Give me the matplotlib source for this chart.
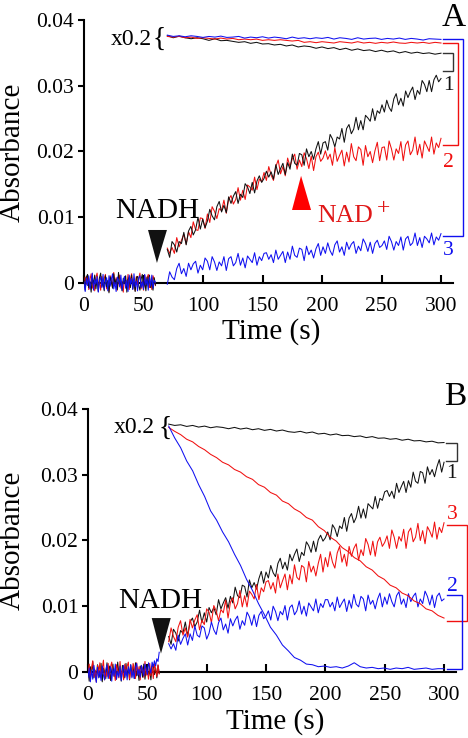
import numpy as np
import matplotlib
matplotlib.use("Agg")
import matplotlib.pyplot as plt
from matplotlib.patches import Polygon

plt.rcParams['font.family'] = ['Liberation Serif', 'DejaVu Serif']

# ---------------- data (absorbance in units of 0.001) ----------------
xticks = [0, 50, 100, 150, 200, 250, 300]
yticks = [0, 10, 20, 30, 40]
ytick_labels = ['0', '0.01', '0.02', '0.03', '0.04']

# Panel A: baseline before NADH (0-60 s, 1 s)
A_base_black = [0.4,-1.1,0.9,1.3,-0.7,0.2,-1.4,1.0,-0.3,1.2,-0.9,0.5,-1.3,0.8,1.5,-0.5,0.1,-1.2,1.1,-0.6,0.4,-1.5,0.9,0.2,-0.8,1.4,-0.2,0.6,-1.0,1.6,-0.4,0.3,-1.2,0.7,-0.1,1.1,-1.4,0.5,0.9,-0.7,1.2,-0.9,0.3,-1.3,0.8,1.0,-0.4,-1.1,0.6,1.3,-0.8,0.2,-1.2,0.9,-0.5,1.2,-0.7,0.4,-1.1,0.8,-0.3]
A_base_red = [-0.6,0.9,-0.2,1.2,-1.0,0.5,1.4,-0.8,0.3,-1.2,0.8,1.5,-0.4,0.2,-1.1,1.0,-0.6,0.7,1.3,-0.9,0.1,-1.3,1.1,0.4,-0.7,1.6,-0.3,0.8,-1.1,0.5,1.2,-0.8,0.2,-1.4,0.9,0.3,-0.6,1.3,-1.0,0.6,1.4,-0.5,0.1,-1.2,1.0,-0.3,0.7,1.5,-0.9,0.3,-1.1,1.2,-0.4,0.8,1.3,-0.7,0.2,-1.0,1.1,0.5,-0.4]
A_base_blue = [0.2,-1.3,0.7,-0.4,1.1,-0.9,0.3,1.5,-1.1,0.6,-0.2,1.0,-1.4,0.4,0.9,-0.7,1.3,-1.0,0.2,0.8,-1.2,1.1,-0.5,0.6,1.4,-0.9,0.1,-1.3,0.9,0.5,-0.6,1.2,-1.1,0.3,1.0,-0.8,0.4,-1.3,1.2,-0.2,0.7,-1.0,1.4,-0.6,0.3,-1.2,0.8,1.1,-0.7,0.2,-1.0,1.3,-0.3,0.6,-1.1,0.9,-0.5,1.2,-0.8,0.4,0.1]

# Panel A: after NADH (70-300 s, ~2 s)
A_trace1 = [5.1,3.9,6.3,5.8,4.7,6.3,6.0,7.7,5.8,7.9,8.6,7.3,8.1,10.0,8.2,9.7,8.4,
            9.4,11.2,10.2,9.6,11.6,12.4,10.8,11.8,10.7,13.1,12.1,13.2,13.9,12.1,13.5,13.0,15.1,14.6,13.6,15.3,13.7,15.5,16.3,15.3,15.9,
            17.0,16.1,16.9,15.8,18.0,16.5,17.4,18.2,16.5,18.3,17.3,19.6,18.2,17.9,19.7,19.5,17.9,20.4,19.2,20.0,18.8,20.4,21.5,19.6,21.3,
            21.5,20.2,22.6,21.9,20.7,22.2,21.9,23.5,21.4,23.5,24.1,22.7,23.4,25.2,23.3,24.7,23.3,25.5,25.1,24.6,26.5,24.7,26.2,25.8,27.1,
            26.0,27.8,26.7,26.1,28.0,28.8,27.1,28.1,26.9,29.2,28.2,29.1,29.8,27.9,29.3,28.7,30.8,30.2,29.1,30.8,29.1,30.9,31.6,30.6,31.1]
A_trace2 = [5.3,4.5,5.4,4.5,6.9,5.5,6.5,7.4,5.9,7.8,6.9,9.3,8.1,8.0,9.9,9.8,8.3,
            10.5,9.2,11.6,10.9,9.8,11.3,11.0,12.6,10.6,12.7,13.3,12.0,12.7,14.5,12.6,14.1,12.7,14.9,14.6,14.1,16.1,14.2,15.8,15.4,16.8,
            15.6,17.7,16.4,15.6,17.7,18.7,16.6,17.7,16.3,19.0,17.7,18.9,19.6,17.3,18.7,17.7,19.8,18.9,17.4,19.3,17.1,19.2,19.9,18.5,19.0,
            20.1,18.8,19.6,17.9,20.6,18.5,19.4,20.2,17.8,19.9,18.4,21.2,19.2,18.6,20.7,20.3,17.9,20.9,19.2,20.0,18.3,20.1,21.4,18.6,20.6,
            20.7,18.7,21.6,20.4,18.7,20.4,19.7,21.5,18.6,21.0,21.6,19.5,20.2,22.2,19.5,21.1,19.0,21.6,20.8,20.0,22.2,19.6,21.3,20.6,22.0]
A_trace3 = [-0.2,1.7,0.9,0.5,2.2,3.0,1.4,2.2,1.0,3.0,2.0,2.9,3.3,1.5,2.7,2.0,3.8,
            3.3,2.0,4.0,3.2,1.9,3.2,2.6,4.0,1.9,3.7,4.0,2.6,3.1,4.5,2.7,3.8,2.3,4.1,3.6,3.1,4.6,2.7,4.0,3.4,4.5,
            4.6,3.6,4.3,3.1,5.0,3.6,4.2,4.8,3.1,4.7,3.6,5.6,4.2,3.9,5.3,5.1,3.4,5.6,4.3,5.0,3.8,5.2,6.0,4.2,5.5,
            4.5,6.1,4.9,4.2,5.8,6.4,4.7,5.5,4.2,6.2,5.1,5.9,6.3,4.5,5.6,4.9,6.7,6.0,4.8,6.2,4.5,6.0,6.5,5.4,5.7,
            6.4,5.1,7.1,6.3,5.0,6.3,5.7,7.0,5.0,6.7,7.1,5.7,6.1,7.6,5.7,6.9,5.4,7.1,6.7,6.1,7.6,5.8,7.0,6.5,7.5]
# Panel A: x0.2 traces (70-300 s, 5 s)
A_scaled1 = [37.6,37.3,37.55,37.3,37.15,37.3,37.15,36.9,37.15,36.85,36.9,36.75,36.6,36.7,36.45,36.6,36.35,36.4,36.2,36.3,36.05,36.2,35.9,36.05,35.95,35.7,35.9,35.65,35.8,35.5,35.7,35.4,35.6,35.35,35.45,35.2,35.4,35.15,35.3,35.0,35.2,34.95,35.1,34.9,35.0,34.8,34.95]
A_scaled2 = [37.5,37.4,37.5,37.3,37.4,37.2,37.3,37.2,37.1,37.25,37.1,37.2,37.0,37.1,37.0,37.1,36.9,37.0,36.9,37.0,36.9,36.8,36.9,36.6,36.7,36.55,36.7,36.6,36.5,36.7,36.6,36.5,36.7,36.5,36.6,36.45,36.6,36.5,36.65,36.5,36.45,36.6,36.5,36.6,36.45,36.6,36.5]
A_scaled3 = [37.7,37.5,37.6,37.45,37.6,37.5,37.35,37.5,37.4,37.55,37.35,37.4,37.5,37.25,37.4,37.3,37.45,37.25,37.4,37.3,37.15,37.4,37.2,37.3,37.15,37.3,37.2,37.35,37.1,37.3,37.2,37.05,37.3,37.1,37.2,37.25,37.05,37.2,37.1,37.25,37.05,37.2,37.1,36.95,37.15,37.1,37.05]

# Panel B: baseline before NADH (0-60 s, 1 s)
B_base_black = [0.5,-1.4,0.8,-0.3,1.6,-0.9,0.2,-1.2,1.1,0.4,-0.8,1.3,-1.5,0.6,0.1,-1.0,1.4,-0.6,0.9,-1.3,0.3,1.2,-0.7,0.5,-1.1,1.5,-0.2,0.7,-1.4,1.0,0.2,-0.9,1.3,-0.5,0.6,-1.2,1.1,-0.3,0.8,-1.0,1.4,-0.6,0.2,-1.3,0.9,0.4,-0.8,1.2,-1.1,0.5,1.0,-0.7,0.3,-1.2,0.8,1.1,-0.4,0.6,-0.9,1.0,-0.2]
B_base_red = [-0.4,1.2,-1.1,0.6,1.7,-0.8,0.3,-1.5,1.0,-0.2,1.4,-0.9,0.5,1.8,-1.2,0.2,-0.7,1.3,-1.0,0.8,1.5,-0.5,0.1,-1.3,1.1,0.4,-0.9,1.6,-0.6,0.3,-1.2,1.2,-0.4,0.9,1.5,-1.1,0.2,-0.7,1.3,0.6,-1.0,1.4,-0.3,0.8,-1.2,1.0,0.5,-0.8,1.6,-0.5,0.2,-1.1,1.3,-0.6,0.9,-1.0,1.2,0.4,-0.7,1.1,-0.3]
B_base_blue = [-0.8,0.6,-1.5,0.3,-1.1,1.0,-0.4,-1.6,0.7,-0.9,0.2,-1.3,0.9,-0.5,-1.2,0.4,1.1,-1.0,-0.2,0.8,-1.4,0.5,-0.6,1.2,-1.1,0.1,-0.8,0.9,-1.3,0.3,1.0,-0.7,0.4,-1.2,0.8,-0.3,1.1,-0.9,0.2,-1.0,0.7,1.3,-0.5,0.4,-0.8,1.0,0.3,-0.6,1.2,0.5,-0.4,1.4,0.6,-0.2,1.5,0.8,1.7,0.9,2.0,1.6,3.0]

# Panel B: after NADH (68-300 s, 2 s)
B_trace1 = [5.4,4.2,6.5,5.9,4.7,6.3,5.9,7.6,5.5,7.6,8.2,6.9,7.6,9.4,7.5,9.0,7.6,
            9.8,9.0,9.8,8.7,11.0,9.6,10.5,11.3,9.7,11.5,10.5,12.9,11.6,11.3,13.2,13.0,11.4,14.0,12.8,13.6,12.6,14.2,15.3,13.5,15.2,
            14.3,16.2,15.1,14.5,16.5,17.3,15.7,16.7,15.5,17.9,16.9,17.9,18.7,16.8,18.2,17.7,19.8,19.2,18.2,19.9,18.3,20.1,20.8,19.9,20.4,
            21.3,20.1,22.4,21.8,20.6,22.2,21.8,23.5,21.4,23.4,24.1,22.7,23.5,25.2,23.4,24.8,23.4,25.6,25.2,24.8,26.7,24.9,26.4,26.1,27.4,
            27.6,26.7,27.5,26.4,28.7,27.3,28.2,29.0,27.3,29.1,28.1,30.4,29.0,28.7,30.5,30.3,28.7,31.2,30.0,30.8,29.7,31.2,32.3,30.4,31.9]
B_trace3 = [4.6,6.7,5.4,4.6,6.8,7.8,5.6,6.7,5.3,8.0,6.7,7.9,8.7,6.4,7.9,7.2,9.6,
            9.1,7.5,10.1,9.3,7.8,9.5,9.0,10.9,8.2,10.6,11.3,9.6,10.4,12.4,9.9,11.6,9.9,12.3,11.8,11.1,13.3,11.0,12.8,12.2,13.7,
            13.9,12.6,13.6,12.0,14.9,12.8,13.9,14.9,12.5,14.8,13.4,16.3,14.4,14.0,16.2,15.9,13.7,16.8,15.2,16.1,14.6,16.5,17.9,15.2,17.4,
            16.0,18.3,16.7,15.8,18.1,19.1,16.7,17.9,16.1,19.1,17.6,18.8,19.5,17.0,18.6,17.7,20.3,19.4,17.8,19.9,17.6,19.8,20.5,19.1,19.7,
            20.7,18.8,21.6,20.5,18.8,20.6,19.9,21.7,18.8,21.3,21.9,19.8,20.5,22.6,20.0,21.5,19.5,22.1,21.4,20.5,22.8,20.2,22.0,21.2,22.7]
B_trace2 = [4.3,3.5,4.3,3.3,5.6,4.2,5.1,5.8,4.1,5.8,4.8,7.0,5.6,5.3,7.0,6.7,5.0,
            5.9,7.6,6.4,5.7,7.5,8.2,6.4,7.3,5.9,8.1,7.0,7.9,8.5,6.5,7.8,7.1,9.1,8.4,7.1,8.7,6.9,8.6,9.2,8.1,8.5,
            9.3,7.9,10.0,9.2,7.8,9.2,8.7,10.1,7.9,9.8,10.2,8.7,9.3,10.8,8.8,10.0,8.5,10.5,9.9,9.3,11.1,9.0,10.4,9.8,11.0,
            11.0,9.9,10.6,9.3,11.4,9.8,10.5,11.1,9.2,10.9,9.7,11.8,10.3,9.9,11.5,11.1,9.3,11.7,10.3,10.9,9.6,11.1,12.0,9.9,11.4,
            10.3,11.9,10.7,9.9,11.6,12.2,10.3,11.1,9.8,11.9,10.7,11.5,12.0,9.9,11.1,10.4,12.3,11.5,10.2,11.7,9.8,11.5,12.0,10.8,11.1]
# Panel B: x0.2 traces (68-300 s, ~5 s)
B_scaled1 = [37.7,37.5,37.6,37.35,37.5,37.25,37.4,37.15,37.3,37.2,37.0,37.2,36.95,37.1,36.85,37.0,36.75,36.9,36.65,36.8,36.55,36.45,36.6,36.35,36.5,36.2,36.3,36.05,36.2,35.95,36.0,35.8,35.9,35.65,35.8,35.55,35.6,35.4,35.5,35.25,35.4,35.15,35.2,35.0,35.1,34.85,34.9]
B_scaled3 = [37.2,36.6,36.1,35.4,35.0,34.3,33.8,33.1,32.6,31.9,31.5,30.8,30.4,29.7,29.3,28.5,28.1,27.3,26.9,26.0,25.6,24.8,24.3,23.5,23.1,22.1,21.5,20.5,19.9,18.9,18.3,17.4,16.9,16.0,15.5,14.6,14.1,13.2,12.8,12.0,11.6,10.8,10.4,9.6,9.3,8.6,8.2]
B_scaled2 = [37.4,35.6,34.1,32.1,30.6,28.5,26.7,24.5,23.1,21.3,19.8,17.9,16.2,14.1,12.4,10.4,8.7,6.8,5.6,4.1,3.2,2.2,1.8,1.2,1.1,0.8,0.9,0.7,0.8,0.6,0.9,1.4,0.8,0.6,0.7,0.5,0.6,0.4,0.6,0.5,0.7,0.4,0.5,0.6,0.4,0.5,0.5]

# ---------------- styling ----------------
BLACK = '#111111'
RED = '#f01010'
BLUE = '#1010f0'
LW = 0.75
TICK_FS = 15.5
LABEL_FS = 21

fig = plt.figure(figsize=(4.68, 7.38), dpi=100)
W, H = 468.0, 738.0

def make_axes(left_px, right_px, top_px, bottom_px):
    ax = fig.add_axes([left_px / W, 1 - bottom_px / H,
                       (right_px - left_px) / W, (bottom_px - top_px) / H])
    ax.set_xlim(0, 310)
    ax.set_ylim(-2.5, 40)
    for s in ('top', 'right'):
        ax.spines[s].set_visible(False)
    ax.spines['left'].set_bounds(0, 40)
    ax.spines['bottom'].set_position(('data', 0))
    for s in ('left', 'bottom'):
        ax.spines[s].set_linewidth(1.5)
        ax.spines[s].set_zorder(1)
    ax.set_xticks(xticks)
    ax.set_xticklabels([str(v) for v in xticks])
    ax.set_yticks(yticks)
    ax.set_yticklabels(ytick_labels)
    ax.tick_params(axis='x', direction='in', length=6, width=1.5, pad=10,
                   labelsize=TICK_FS)
    ax.tick_params(axis='y', direction='out', length=4.5, width=1.5, pad=2.5,
                   labelsize=TICK_FS)
    ax.patch.set_visible(False)
    return ax

def bracket(ax, x0, x1, ytop, ybot, color):
    ax.plot([x0, x1, x1, x0], [ytop, ytop, ybot, ybot], color=color, lw=1.0,
            clip_on=False, solid_joinstyle='miter')

def triangle(ax, xl, xr, ybase, xapex, yapex, color):
    ax.add_patch(Polygon([[xl, ybase], [xr, ybase], [xapex, yapex]],
                         closed=True, facecolor=color, edgecolor='none', zorder=5))

# ---------------- Panel A ----------------
axA = make_axes(84, 452.9, 20, 299.4)
tb = np.linspace(0, 60, len(A_base_black))
axA.plot(tb, A_base_red, color=RED, lw=LW)
axA.plot(tb, A_base_black, color=BLACK, lw=LW)
axA.plot(tb, A_base_blue, color=BLUE, lw=LW)
tm = np.linspace(70, 300, len(A_trace1))
axA.plot(tm, A_trace2, color=RED, lw=LW)
axA.plot(tm, A_trace1, color=BLACK, lw=LW)
axA.plot(tm, A_trace3, color=BLUE, lw=LW)
ts = np.linspace(70, 300, len(A_scaled1))
axA.plot(ts, A_scaled1, color=BLACK, lw=LW)
axA.plot(ts, A_scaled2, color=RED, lw=LW)
axA.plot(ts, A_scaled3, color=BLUE, lw=LW)

bracket(axA, 301.7, 310.0, A_scaled1[-1], 32.2, '#333333')
bracket(axA, 301.7, 314.3, A_scaled2[-1], 21.0, RED)
bracket(axA, 301.7, 318.5, A_scaled3[-1], 7.1, BLUE)
axA.text(305.9, 30.1, '1', color=BLACK, fontsize=15.5, ha='center', va='center', clip_on=False)
axA.text(305.9, 18.4, '2', color=RED, fontsize=15.5, ha='center', va='center', clip_on=False)
axA.text(305.9, 5.0, '3', color=BLUE, fontsize=15.5, ha='center', va='center', clip_on=False)

axA.text(57.1, 36.2, 'x0.2', fontsize=17, ha='right', va='baseline')
axA.text(63.0, 37.0, '{', fontsize=20, ha='center', va='center')
axA.text(61.3, 9.9, 'NADH', fontsize=21, ha='center', va='baseline')
triangle(axA, 53.8, 69.7, 8.06, 61.3, 3.04, BLACK)
triangle(axA, 174.8, 190.8, 11.1, 182.4, 16.3, '#ff0000')
axA.text(195.8, 9.3, 'NAD', fontsize=18.5, color='#e01818', ha='left', va='baseline')
axA.text(252.0, 10.5, '+', fontsize=17, color='#e01818', ha='center', va='baseline')
fig.text(466 / W, 1 - 26 / H, 'A', fontsize=24, ha='right', va='baseline')
fig.text(271 / W, 1 - 332 / H, 'Time (s)', fontsize=LABEL_FS, ha='center', va='center')
fig.text(13 / W, 1 - 152 / H, 'Absorbance', fontsize=LABEL_FS, ha='center', va='center',
         rotation=90)

# ---------------- Panel B ----------------
axB = make_axes(88, 455.9, 409, 688.4)
tb = np.linspace(0, 60, len(B_base_black))
axB.plot(tb, B_base_black, color=BLACK, lw=LW)
axB.plot(tb, B_base_red, color=RED, lw=LW)
axB.plot(tb, B_base_blue, color=BLUE, lw=LW)
tm = np.linspace(68, 300, len(B_trace1))
axB.plot(tm, B_trace1, color=BLACK, lw=LW)
axB.plot(tm, B_trace3, color=RED, lw=LW)
axB.plot(tm, B_trace2, color=BLUE, lw=LW)
ts = np.linspace(68, 300, len(B_scaled1))
axB.plot(ts, B_scaled1, color=BLACK, lw=LW)
axB.plot(ts, B_scaled3, color=RED, lw=LW)
axB.plot(ts, B_scaled2, color=BLUE, lw=LW)

bracket(axB, 302.0, 311.0, B_scaled1[-1], 32.1, '#333333')
bracket(axB, 302.5, 319.0, 22.4, B_scaled3[-1] - 0.5, RED)
bracket(axB, 302.5, 315.0, 11.7, B_scaled2[-1], BLUE)
axB.text(306.7, 30.2, '1', color=BLACK, fontsize=15.5, ha='center', va='center', clip_on=False)
axB.text(306.7, 24.0, '3', color=RED, fontsize=15.5, ha='center', va='center', clip_on=False)
axB.text(306.7, 13.0, '2', color=BLUE, fontsize=15.5, ha='center', va='center', clip_on=False)

axB.text(56.5, 36.3, 'x0.2', fontsize=17, ha='right', va='baseline')
axB.text(65.0, 37.1, '{', fontsize=20, ha='center', va='center')
axB.text(60.7, 9.7, 'NADH', fontsize=21, ha='center', va='baseline')
triangle(axB, 53.7, 69.7, 8.2, 61.5, 2.8, BLACK)
fig.text(466 / W, 1 - 405 / H, 'B', fontsize=24, ha='right', va='baseline')
fig.text(275 / W, 1 - 722 / H, 'Time (s)', fontsize=LABEL_FS, ha='center', va='center')
fig.text(13 / W, 1 - 540 / H, 'Absorbance', fontsize=LABEL_FS, ha='center', va='center',
         rotation=90)

fig.savefig('out.png', dpi=100)
